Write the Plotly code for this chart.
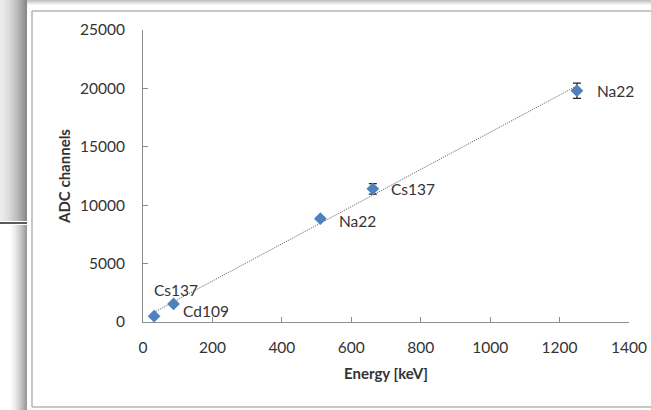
import numpy as np
import plotly.graph_objects as go

# Calibration points: source line energy vs. measured ADC channel
energy_kev = [32, 88, 511, 662, 1250]
adc_channels = [500, 1550, 8850, 11400, 19800]
adc_error = [40, 60, 150, 450, 650]
source_labels = ["Cs137", "Cd109", "Na22", "Cs137", "Na22"]

x_ticks = [0, 200, 400, 600, 800, 1000, 1200, 1400]
y_ticks = [0, 5000, 10000, 15000, 20000, 25000]

# pixel offsets of each data label relative to its point
label_offsets = [(-2, 26), (7, -7), (17, -2), (16, 0), (18, 0)]

W, H = 651, 410
ML, MR, MT, MB = 143, 22, 30, 88
PW, PH = W - ML - MR, H - MT - MB

BLUE = "#4F81BD"
AXIS = "#8c8c8c"
TEXT = "#333333"
FONT = "Lato"


def px(x):
    return (x - ML) / PW


def py(y):
    return (H - MB - y) / PH


def rect(x0, y0, x1, y1, color):
    return dict(type="rect", xref="paper", yref="paper", layer="below",
                x0=px(x0), x1=px(x1), y0=py(y1), y1=py(y0),
                fillcolor=color, line=dict(width=0))


def line(x0, y0, x1, y1, color, width=1):
    return dict(type="line", xref="paper", yref="paper", layer="below",
                x0=px(x0), x1=px(x1), y0=py(y0), y1=py(y1),
                line=dict(color=color, width=width))


def gray(v):
    v = int(max(0, min(255, v)))
    return f"rgb({v},{v},{v})"


shapes = []
# shadow strip along the left edge of the slide
for i in range(27):
    t = i / 26
    shapes.append(rect(i, 0, i + 1, 221, gray(236 - 100 * t ** 1.6)))
for i in range(10, 27):
    t = (i - 10) / 16
    shapes.append(rect(i, 225, i + 1, H, gray(252 - 100 * t ** 1.4)))
shapes.append(line(0, 223, 27, 223, "#5a5a5a", 2))
# soft band at the top edge
for j in range(5):
    shapes.append(rect(27, j, W, j + 1, gray(196 + 12 * j)))
# chart frame
shapes.append(line(32, 11, W, 11, "#b4b4b4", 1.5))
shapes.append(line(32, 11, 32, 407, "#b4b4b4", 1.5))
shapes.append(line(32, 407, W, 407, "#b4b4b4", 1.5))

# linear calibration fit
slope, intercept = np.polyfit(energy_kev, adc_channels, 1)
fit_x = np.array([min(energy_kev), max(energy_kev)])
fit_y = slope * fit_x + intercept

fig = go.Figure()
fig.add_trace(go.Scatter(
    x=fit_x, y=fit_y, mode="lines",
    line=dict(color="#555555", width=1, dash="1px,1.2px"),
    hoverinfo="skip", showlegend=False,
))
fig.add_trace(go.Scatter(
    x=energy_kev, y=adc_channels, mode="markers",
    marker=dict(symbol="diamond", size=9.8, color=BLUE,
                line=dict(width=0)),
    error_y=dict(type="data", array=adc_error, visible=True,
                 color="#222222", thickness=1.2, width=4),
    showlegend=False,
))

annotations = []
for xv, yv, lab, (dx, dy) in zip(energy_kev, adc_channels, source_labels, label_offsets):
    annotations.append(dict(
        x=xv, y=yv, xref="x", yref="y", text=lab, showarrow=False,
        xanchor="left", yanchor="middle", xshift=dx, yshift=dy,
        font=dict(family=FONT, size=15.5, color=TEXT),
    ))

axis_common = dict(
    showgrid=False, zeroline=False, showline=True, linecolor=AXIS,
    linewidth=1, ticks="inside", ticklen=5, tickwidth=1, tickcolor=AXIS,
    tickfont=dict(family=FONT, size=15.5, color=TEXT), mirror=False,
    automargin=False,
)

fig.update_layout(
    width=W, height=H, autosize=False,
    margin=dict(l=ML, r=MR, t=MT, b=MB, pad=0),
    paper_bgcolor="white", plot_bgcolor="white",
    shapes=shapes, annotations=annotations,
    xaxis=dict(range=[0, 1400], tickvals=x_ticks,
               ticktext=[str(v) for v in x_ticks],
               ticklabelstandoff=11,
               title=dict(text="<b>Energy [keV]</b>", standoff=13,
                          font=dict(family=FONT, size=15, color=TEXT)),
               **axis_common),
    yaxis=dict(range=[0, 25000], tickvals=y_ticks,
               ticktext=[str(v) for v in y_ticks],
               ticklabelstandoff=14,
               title=dict(text="<b>ADC channels</b>", standoff=5,
                          font=dict(family=FONT, size=15, color=TEXT)),
               **axis_common),
)

fig.write_html("out.html", config={"responsive": False})
